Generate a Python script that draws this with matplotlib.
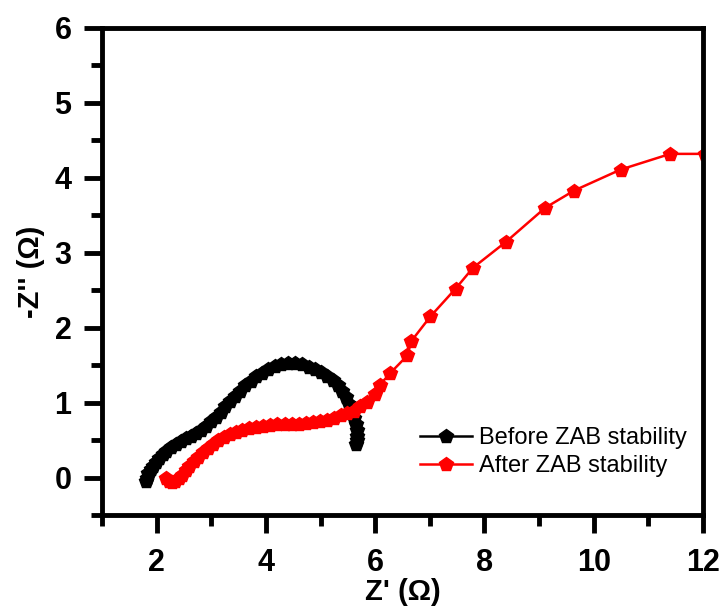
import numpy as np
import matplotlib
matplotlib.use("Agg")
import matplotlib.pyplot as plt
from matplotlib.ticker import MultipleLocator

plt.rcParams['font.family'] = ['Liberation Sans', 'DejaVu Sans']

# Nyquist data, before cycling
before_x = [1.80, 1.82, 1.85, 1.89, 1.94, 1.99, 2.05, 2.11, 2.18, 2.26,
            2.35, 2.44, 2.53, 2.62, 2.72, 2.81, 2.90, 2.99, 3.08, 3.17,
            3.26, 3.35, 3.44, 3.53, 3.62, 3.72, 3.82, 3.93, 4.04, 4.16,
            4.28, 4.41, 4.54, 4.66, 4.78, 4.90, 5.01, 5.12, 5.22, 5.31,
            5.39, 5.46, 5.52, 5.57, 5.61, 5.64, 5.66, 5.67, 5.66, 5.65]
before_y = [-0.05, 0.00, 0.06, 0.11, 0.16, 0.21, 0.26, 0.31, 0.36, 0.41,
            0.45, 0.49, 0.53, 0.56, 0.60, 0.64, 0.69, 0.75, 0.81, 0.88,
            0.95, 1.02, 1.09, 1.16, 1.23, 1.29, 1.35, 1.40, 1.45, 1.49,
            1.52, 1.53, 1.53, 1.51, 1.48, 1.45, 1.41, 1.36, 1.30, 1.23,
            1.15, 1.07, 0.98, 0.89, 0.80, 0.71, 0.63, 0.56, 0.50, 0.45]

# after cycling
after_x = [2.17, 2.22, 2.28, 2.34, 2.40, 2.46, 2.53, 2.60, 2.68, 2.76,
           2.85, 2.94, 3.03, 3.13, 3.23, 3.34, 3.45, 3.57, 3.69, 3.82,
           3.95, 4.08, 4.21, 4.34, 4.47, 4.60, 4.73, 4.86, 4.99, 5.12,
           5.25, 5.37, 5.49, 5.61, 5.72, 5.85, 6.00, 6.09, 6.27, 6.59,
           6.66, 7.01, 7.47, 7.79, 8.40, 9.11, 9.64, 10.49, 11.40, 12.03]
after_y = [0.00, -0.04, -0.06, -0.05, -0.01, 0.04, 0.10, 0.16, 0.22, 0.28,
           0.34, 0.40, 0.45, 0.50, 0.54, 0.58, 0.61, 0.64, 0.66, 0.68,
           0.69, 0.70, 0.71, 0.71, 0.72, 0.72, 0.73, 0.74, 0.75, 0.77,
           0.80, 0.83, 0.86, 0.89, 0.95, 1.01, 1.12, 1.24, 1.39, 1.63,
           1.82, 2.15, 2.52, 2.80, 3.15, 3.60, 3.83, 4.11, 4.32, 4.32]

fig = plt.figure(figsize=(7.23, 6.14), dpi=100)
ax = fig.add_axes([0.1411, 0.1612, 0.8313, 0.7932])

ax.plot(before_x, before_y, color='black', marker='p', markersize=10,
        linewidth=1.8, label='Before ZAB stability')
ax.plot(after_x, after_y, color='red', marker='p', markersize=10,
        linewidth=1.8, label='After ZAB stability')

ax.set_xlim(1, 12)
ax.set_ylim(-0.5, 6)
ax.xaxis.set_major_locator(MultipleLocator(2))
ax.xaxis.set_minor_locator(MultipleLocator(1))
ax.yaxis.set_major_locator(MultipleLocator(1))
ax.yaxis.set_minor_locator(MultipleLocator(0.5))

for s in ax.spines.values():
    s.set_linewidth(3.5)
ax.tick_params(which='major', direction='out', length=13, width=3.5,
               labelsize=22, pad=9)
ax.tick_params(axis='x', which='major', pad=11)
ax.tick_params(which='minor', direction='out', length=8, width=3.5)
for lab in ax.get_xticklabels() + ax.get_yticklabels():
    lab.set_fontweight('bold')

ax.set_xlabel("Z' (\u03a9)", fontsize=21, fontweight='bold', labelpad=0)
ax.set_ylabel("-Z'' (\u03a9)", fontsize=21, fontweight='bold', labelpad=7)

ax.legend(loc='upper left', bbox_to_anchor=(0.529, 0.18), frameon=False,
          fontsize=17, handlelength=2.2, handletextpad=0.3,
          labelspacing=0.25, borderpad=0, borderaxespad=0)

fig.savefig('out.png', dpi=100)
